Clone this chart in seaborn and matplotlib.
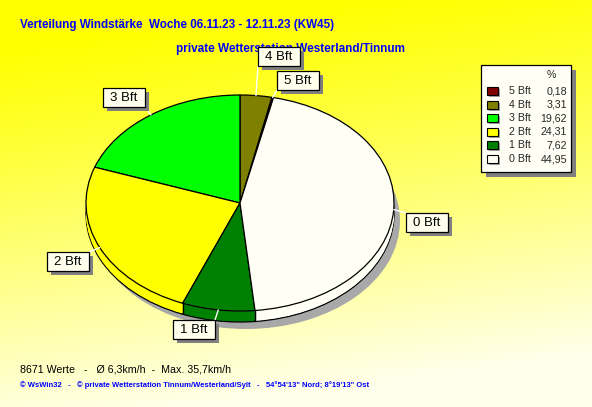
import numpy as np
import matplotlib
matplotlib.use('Agg')
import matplotlib.pyplot as plt
import seaborn as sns
from matplotlib.patches import Rectangle

sns.set_style('white')
plt.rcParams['font.family'] = ['Liberation Sans', 'DejaVu Sans']

# Data (legend order)
labels = ['5 Bft', '4 Bft', '3 Bft', '2 Bft', '1 Bft', '0 Bft']
percent = [0.18, 3.31, 19.62, 24.31, 7.62, 44.95]
percent_text = ['0,18', '3,31', '19,62', '24,31', '7,62', '44,95']
colors = ['#800000', '#808000', '#00FF00', '#FFFF00', '#008000', '#FFFFF6']

title = 'Verteilung Windstärke  Woche 06.11.23 - 12.11.23 (KW45)'
subtitle = 'private Wetterstation Westerland/Tinnum'
stats_line = '8671 Werte   -   Ø 6,3km/h  -  Max. 35,7km/h'
footer = ('© WsWin32   -   © private Wetterstation Tinnum/Westerland/Sylt   -   '
          '54°54\'13" Nord; 8°19\'13" Ost')

W, H = 592, 407
fig = plt.figure(figsize=(W / 100, H / 100), dpi=100)

# background gradient
bg = fig.add_axes([0, 0, 1, 1], zorder=0)
yy, xx = np.mgrid[0:H, 0:W]
s = np.clip(1.05 * yy / H + 0.2 * xx / W - 0.12, 0, 1) ** 1.1
img = np.ones((H, W, 3))
img[..., 2] = 0.93 * s
bg.imshow(img, extent=(0, W, H, 0), aspect='auto')
bg.set_xlim(0, W)
bg.set_ylim(H, 0)
bg.axis('off')

# pie geometry in pixels
cx, cy, rx, ry, depth = 240, 203, 154, 108, 11
pie_ax = fig.add_axes([0, 0, 1, 1], zorder=1)
pie_ax.patch.set_alpha(0)
start = 90 - 3.6 * (percent[0] + percent[1])

# shadow
pie_ax.pie([1], colors=['#A8A8A8'], startangle=start,
           center=(6 / rx, -(depth + 7) / ry), wedgeprops=dict(linewidth=0))
# side wall
for d in range(depth, 0, -1):
    lw = 0.9 if d == depth else 0
    pie_ax.pie(percent, colors=colors, startangle=start, center=(0, -d / ry),
               wedgeprops=dict(edgecolor='black', linewidth=lw))
wedges, _ = pie_ax.pie(percent, colors=colors, startangle=start,
                       wedgeprops=dict(edgecolor='black', linewidth=0.9))
pie_ax.set_aspect('auto')
pie_ax.set_xlim(-cx / rx, (W - cx) / rx)
pie_ax.set_ylim((cy - H) / ry, cy / ry)
pie_ax.axis('off')

# vertical edges of the wall at front boundaries
for w in wedges:
    for th in (w.theta1, w.theta2):
        a = np.deg2rad(th)
        if np.sin(a) < -0.05:
            x, y = np.cos(a), np.sin(a)
            pie_ax.plot([x, x], [y, y - depth / ry], color='black', lw=0.9)

ov = fig.add_axes([0, 0, 1, 1], zorder=2)
ov.patch.set_alpha(0)
ov.set_xlim(0, W)
ov.set_ylim(H, 0)
ov.axis('off')

# slice labels: box left/top in pixels
box_pos = {'5 Bft': (277, 71), '4 Bft': (258, 47), '3 Bft': (103, 88),
           '2 Bft': (47, 252), '1 Bft': (173, 320), '0 Bft': (406, 213)}
bw, bh = 42, 19
for lab, w in zip(labels, wedges):
    mid = np.deg2rad((w.theta1 + w.theta2) / 2)
    ax_x = cx + rx * np.cos(mid)
    ax_y = cy - ry * np.sin(mid)
    bx, by = box_pos[lab]
    tx = min(max(ax_x, bx), bx + bw)
    ty = min(max(ax_y, by), by + bh)
    ov.plot([ax_x, tx], [ax_y, ty], color='white', lw=1, zorder=3)
    ov.add_patch(Rectangle((bx + 4, by + 4), bw, bh, color='#808080', lw=0, zorder=4))
    ov.add_patch(Rectangle((bx, by), bw, bh, facecolor='#FFFFEE', edgecolor='black',
                           lw=0.9, zorder=5))
    ov.text(bx + bw / 2, by + bh / 2 + 0.5, lab, ha='center', va='center',
            fontsize=9.5, color='black', zorder=6)

# legend
lx, ly, lw_, lh = 481, 65, 90, 107
ov.add_patch(Rectangle((lx + 5, ly + 5), lw_, lh, color='#808080', lw=0, zorder=4))
ov.add_patch(Rectangle((lx, ly), lw_, lh, facecolor='#FFFFF6', edgecolor='black',
                       lw=0.9, zorder=5))
ov.text(551, 75, '%', ha='center', va='center', fontsize=7.7, zorder=6)
for i, (lab, c, pt) in enumerate(zip(labels, colors, percent_text)):
    y = 91 + 13.6 * i
    ov.add_patch(Rectangle((489, y - 2), 11, 8, color='#A0A0A0', lw=0, zorder=5))
    ov.add_patch(Rectangle((487, y - 4), 11, 8, facecolor=c, edgecolor='black',
                           lw=0.8, zorder=6))
    ov.text(509, y, lab, ha='left', va='center', fontsize=7.7, zorder=6)
    ov.text(567, y, pt, ha='right', va='center', fontsize=7.7, zorder=6)

# titles and footer
ov.text(20, 25, title, ha='left', va='center', fontsize=8.4, fontweight='bold',
        color='#0000FF')
ov.text(176, 49, subtitle, ha='left', va='center', fontsize=8.5, fontweight='bold',
        color='#0000FF', zorder=1)
ov.text(20, 369, stats_line, ha='left', va='center', fontsize=7.7, color='black')
ov.text(20, 385, footer, ha='left', va='center', fontsize=5.5, fontweight='bold',
        color='#0000FF')

fig.savefig('out.png', dpi=100)
